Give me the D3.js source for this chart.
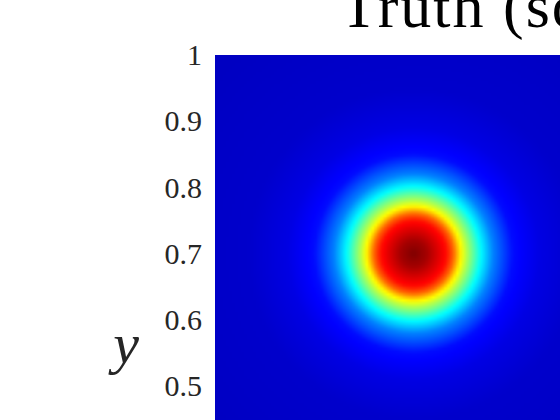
<!DOCTYPE html>
<html>
<head>
<meta charset="utf-8">
<script src="https://cdn.jsdelivr.net/npm/d3@7"></script>
<style>
  body { margin: 0; background: #fff; }
  svg { display: block; overflow: hidden; }
  .tick text { font-family: "Liberation Serif", "Times New Roman", serif; font-size: 30px; fill: #262626; }
</style>
</head>
<body>
<svg></svg>
<script>
// source centre (x, y)
const sourceCenter = [0.3, 0.7]

// radial profile of the truth field
const profileRadius = [0, 0.02, 0.04, 0.05, 0.06, 0.07, 0.08, 0.10, 0.12, 0.15, 0.19, 0.25, 0.40, 1.5]
const profileValue  = [1, 0.96, 0.89, 0.85, 0.76, 0.62, 0.52, 0.34, 0.20, 0.075, 0.035, 0.01, 0, 0]

// colour limits (caxis) and the y tick labels that fall inside the window
const colorLimits = [-0.07, 1]
const yTicks = [0.5, 0.6, 0.7, 0.8, 0.9, 1]

const titleText = "Truth (source)"

const svg = d3.select("svg")
    .attr("width", 560)
    .attr("height", 420)

// plot box: the axes run off the bottom and right of the window
const plotLeft = 215
const plotTop = 55
const plotSize = 662
const gridN = 220

const x = d3.scaleLinear().domain([0, 1]).range([plotLeft, plotLeft + plotSize])
const y = d3.scaleLinear().domain([0, 1]).range([plotTop + plotSize, plotTop])

const profile = d3.scaleLinear()
    .domain(profileRadius)
    .range(profileValue)
    .clamp(true)

const colorT = d3.scaleLinear().domain(colorLimits).range([0, 1]).clamp(true)

// matlab jet colormap
const jet = function (t) {
    const c = v => Math.round(255 * Math.max(0, Math.min(1, v)))
    return [c(1.5 - Math.abs(4 * t - 3)), c(1.5 - Math.abs(4 * t - 2)), c(1.5 - Math.abs(4 * t - 1))]
}

// paint the field into a small canvas, one pixel per grid cell
const canvas = document.createElement("canvas")
canvas.width = gridN
canvas.height = gridN
const ctx = canvas.getContext("2d")
const img = ctx.createImageData(gridN, gridN)
const cell = d3.scaleLinear().domain([0, gridN]).range([0, 1])

for (let j = 0; j < gridN; j++) {
    for (let i = 0; i < gridN; i++) {
        const px = cell(i + 0.5)
        const py = 1 - cell(j + 0.5)
        const r = Math.hypot(px - sourceCenter[0], py - sourceCenter[1])
        const rgb = jet(colorT(profile(r)))
        const k = 4 * (j * gridN + i)
        img.data[k] = rgb[0]
        img.data[k + 1] = rgb[1]
        img.data[k + 2] = rgb[2]
        img.data[k + 3] = 255
    }
}
ctx.putImageData(img, 0, 0)

svg.append("image")
    .attr("x", x(0))
    .attr("y", y(1))
    .attr("width", x(1) - x(0))
    .attr("height", y(0) - y(1))
    .attr("preserveAspectRatio", "none")
    .attr("href", canvas.toDataURL())

// y axis, ticks hidden under the image as in matlab
const axisY = svg.append("g")
    .attr("transform", `translate(${plotLeft}, 0)`)
    .call(d3.axisLeft(y).tickValues(yTicks).tickFormat(d3.format("~g")).tickSize(0).tickPadding(13))
axisY.select(".domain").remove()

// y label
svg.append("text")
    .attr("x", 126)
    .attr("y", 363)
    .attr("text-anchor", "middle")
    .style("font-family", "'Liberation Serif', 'Times New Roman', serif")
    .style("font-style", "italic")
    .style("font-size", "58px")
    .style("fill", "#262626")
    .text("y")

// title
svg.append("text")
    .attr("x", 340)
    .attr("y", 27)
    .style("font-family", "'Liberation Serif', 'Times New Roman', serif")
    .style("font-size", "62px")
    .style("letter-spacing", "2px")
    .style("fill", "#000")
    .text(titleText)
</script>
</body>
</html>
